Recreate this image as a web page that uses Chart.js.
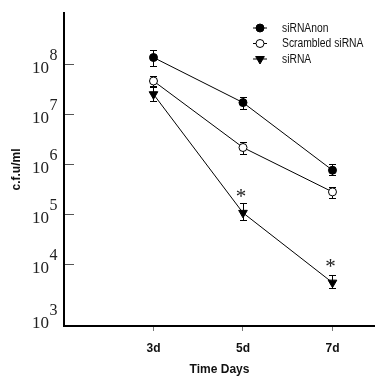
<!DOCTYPE html>
<html>
<head>
<meta charset="utf-8">
<script src="https://cdn.jsdelivr.net/npm/chart.js@4.4.1/dist/chart.umd.min.js"></script>
<style>
  html, body { margin: 0; padding: 0; background: #ffffff; }
  #wrap { width: 375px; height: 376px; }
</style>
</head>
<body>
<div id="wrap"><canvas id="c" width="375" height="376"></canvas></div>
<script>
// ---- data ----
const days = [3, 5, 7];
const dayLabels = ['3d', '5d', '7d'];
const seriesNames = ['siRNAnon', 'Scrambled siRNA', 'siRNA'];

const siRNAnon      = [1.36e8, 1.7e7, 7.5e5];
const siRNAnonHigh  = [1.9e8, 2.25e7, 9.9e5];
const siRNAnonLow   = [9.1e7, 1.25e7, 6.0e5];

const scrambled     = [4.6e7, 2.14e6, 2.76e5];
const scrambledHigh = [5.75e7, 2.7e6, 3.4e5];
const scrambledLow  = [3.6e7, 1.57e6, 2.13e5];

const siRNA         = [2.5e7, 1.05e5, 4.2e3];
const siRNAHigh     = [3.46e7, 1.64e5, 6.0e3];
const siRNALow      = [1.84e7, 7.6e4, 3.35e3];

const significant   = [false, true, true];   // asterisks on siRNA

const yTickValues = [568, 1e4, 1e5, 1e6, 1e7, 1e8];
const yTickExps   = ['3', '4', '5', '6', '7', '8'];
const yMin = 568, yMax = 1.06e9;
const xMin = 1, xMax = 7.95;

const SANS = "'Liberation Sans', Arial, sans-serif";
const SERIF = "'Liberation Serif', 'DejaVu Serif', serif";

function pts(vals) { return days.map((d, i) => ({ x: d, y: vals[i] })); }

const errData = [
  { high: siRNAnonHigh, low: siRNAnonLow },
  { high: scrambledHigh, low: scrambledLow },
  { high: siRNAHigh, low: siRNALow }
];

const errorBars = {
  id: 'errorBars',
  beforeDatasetsDraw(chart) {
    const { ctx } = chart;
    const xs = chart.scales.x, ys = chart.scales.y;
    ctx.save();
    ctx.strokeStyle = '#000';
    ctx.lineWidth = 1;
    errData.forEach(e => {
      days.forEach((d, i) => {
        const px = Math.round(xs.getPixelForValue(d)) + 0.5;
        const pt = Math.round(ys.getPixelForValue(e.high[i])) + 0.5;
        const pb = Math.round(ys.getPixelForValue(e.low[i])) + 0.5;
        ctx.beginPath();
        ctx.moveTo(px, pt); ctx.lineTo(px, pb);
        ctx.moveTo(px - 3.5, pt); ctx.lineTo(px + 3.5, pt);
        ctx.moveTo(px - 3.5, pb); ctx.lineTo(px + 3.5, pb);
        ctx.stroke();
      });
    });
    ctx.restore();
  }
};

function narrowText(ctx, text, x, y, squeeze) {
  ctx.save();
  ctx.translate(x, y);
  ctx.scale(squeeze, 1);
  ctx.fillText(text, 0, 0);
  ctx.restore();
}

const decorations = {
  id: 'decorations',
  afterDraw(chart) {
    const { ctx, chartArea } = chart;
    const xs = chart.scales.x, ys = chart.scales.y;
    ctx.save();
    // y tick marks (inside) and labels 10^n
    yTickValues.forEach((v, i) => {
      const py = Math.round(ys.getPixelForValue(v)) + 0.5;
      if (i > 0) {
        ctx.strokeStyle = '#555';
        ctx.lineWidth = 1;
        ctx.beginPath();
        ctx.moveTo(chartArea.left + 1, py);
        ctx.lineTo(chartArea.left + 10, py);
        ctx.stroke();
      }
      const base = Math.min(py + 8, chartArea.bottom + 2);
      ctx.fillStyle = '#222';
      ctx.textBaseline = 'alphabetic';
      ctx.textAlign = 'right';
      ctx.font = '17px ' + SERIF;
      ctx.fillText('10', 49, base);
      ctx.textAlign = 'left';
      ctx.font = '16px ' + SERIF;
      ctx.fillText(yTickExps[i], 49.5, base - 13);
    });
    // asterisks
    ctx.fillStyle = '#222';
    ctx.textAlign = 'center';
    ctx.textBaseline = 'middle';
    ctx.font = '21px ' + SERIF;
    days.forEach((d, i) => {
      if (!significant[i]) return;
      const px = xs.getPixelForValue(d) - 2;
      const py = ys.getPixelForValue(siRNA[i]) - 15;
      ctx.fillText('*', px, py);
    });
    // legend
    const rows = [27.5, 43, 58.5];
    const styles = [
      { style: 'circle', fill: '#000', rot: 0, r: 4 },
      { style: 'circle', fill: '#fff', rot: 0, r: 4 },
      { style: 'triangle', fill: '#000', rot: 180, r: 5 }
    ];
    rows.forEach((ry, i) => {
      ctx.strokeStyle = '#000';
      ctx.lineWidth = 1;
      ctx.beginPath();
      ctx.moveTo(253, ry + 0.5); ctx.lineTo(267, ry + 0.5);
      ctx.stroke();
      ctx.fillStyle = styles[i].fill;
      Chart.helpers.drawPoint(ctx, {
        pointStyle: styles[i].style, rotation: styles[i].rot,
        radius: styles[i].r, borderWidth: 1
      }, 260, ry + 0.5);
      ctx.fillStyle = '#111';
      ctx.textAlign = 'left';
      ctx.textBaseline = 'middle';
      ctx.font = '12px ' + SANS;
      narrowText(ctx, seriesNames[i], 282, ry + 1, 0.86);
    });
    ctx.restore();
  }
};

const common = { borderColor: '#000', borderWidth: 1, pointBorderColor: '#000', pointBorderWidth: 1, showLine: true, tension: 0 };

new Chart(document.getElementById('c'), {
  type: 'scatter',
  data: {
    datasets: [
      Object.assign({ label: seriesNames[0], data: pts(siRNAnon), pointStyle: 'circle', pointRadius: 4, pointBackgroundColor: '#000' }, common),
      Object.assign({ label: seriesNames[1], data: pts(scrambled), pointStyle: 'circle', pointRadius: 4, pointBackgroundColor: '#fff' }, common),
      Object.assign({ label: seriesNames[2], data: pts(siRNA), pointStyle: 'triangle', pointRotation: 180, pointRadius: 5, pointBackgroundColor: '#000' }, common)
    ]
  },
  options: {
    responsive: false,
    animation: false,
    devicePixelRatio: 1,
    layout: { autoPadding: false, padding: { top: 13, right: 0, left: 0, bottom: 0 } },
    plugins: { legend: { display: false }, tooltip: { enabled: false } },
    scales: {
      x: {
        type: 'linear', min: xMin, max: xMax,
        afterBuildTicks(s) { s.ticks = days.map(v => ({ value: v })); },
        afterFit(s) { s.height = 50; },
        ticks: {
          callback(v) { const i = days.indexOf(v); return i >= 0 ? dayLabels[i] : ''; },
          color: '#111', font: { family: SANS, size: 12, weight: 'bold' }, padding: 10, maxRotation: 0
        },
        grid: { display: true, drawOnChartArea: false, drawTicks: true, tickLength: 5, color: '#777', lineWidth: 1 },
        border: { display: true, color: '#000', width: 2 },
        title: { display: true, text: 'Time Days', color: '#111', font: { family: SANS, size: 12, weight: 'bold' }, padding: { top: 0, bottom: -1 } }
      },
      y: {
        type: 'logarithmic', min: yMin, max: yMax,
        afterBuildTicks(s) { s.ticks = yTickValues.map(v => ({ value: v })); },
        afterFit(s) { s.width = 64; },
        ticks: { display: false },
        grid: { display: false },
        border: { display: true, color: '#000', width: 2 },
        title: { display: true, text: 'c.f.u/ml', color: '#111', font: { family: SANS, size: 12, weight: 'bold' }, padding: { top: 9, bottom: 0 } }
      }
    }
  },
  plugins: [errorBars, decorations]
});
</script>
</body>
</html>
